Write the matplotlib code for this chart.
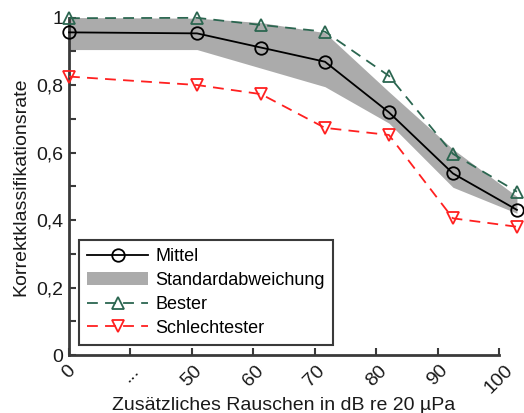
import numpy as np
import matplotlib
matplotlib.use('Agg')
import matplotlib.pyplot as plt

plt.rcParams['font.family'] = ['Liberation Sans', 'DejaVu Sans']

# data
x_pos = [0, 2, 3, 4, 5, 6, 7]
tick_labels = ['0', '...', '50', '60', '70', '80', '90', '100']
mittel = [0.956, 0.953, 0.911, 0.869, 0.719, 0.538, 0.430]
std_upper = [1.0, 0.998, 0.985, 0.955, 0.78, 0.61, 0.47]
std_lower = [0.905, 0.905, 0.85, 0.795, 0.687, 0.497, 0.42]
bester = [0.998, 0.999, 0.978, 0.958, 0.827, 0.596, 0.484]
schlechtester = [0.825, 0.80, 0.773, 0.673, 0.652, 0.405, 0.38]

fig = plt.figure(figsize=(5.24, 4.13), dpi=100)
ax = fig.add_axes([0.1317, 0.1404, 0.8206, 0.8172])

ax.fill_between(x_pos, std_lower, std_upper, color='#ababab', linewidth=0,
                label='Standardabweichung', clip_on=False, zorder=1)
ax.plot(x_pos, mittel, color='black', lw=1.3, marker='o', ms=9, mfc='none',
        mew=1.3, label='Mittel', clip_on=False, zorder=3)
ax.plot(x_pos, bester, color='#2b6650', lw=1.3, ls=(0, (6, 4)), marker='^', ms=9,
        mfc='none', mew=1.3, label='Bester', clip_on=False, zorder=3)
ax.plot(x_pos, schlechtester, color='#ff2020', lw=1.3, ls=(0, (6, 4)), marker='v', ms=9,
        mfc='none', mew=1.3, label='Schlechtester', clip_on=False, zorder=3)

xmax = 6.72
ax.set_xlim(0, xmax)
ax.set_ylim(0, 1)
ax.set_xticks(np.linspace(0, xmax, 8))
ax.set_xticklabels(tick_labels, rotation=45, ha='center', va='top')
ax.set_yticks([0, 0.2, 0.4, 0.6, 0.8, 1.0])
ax.set_yticklabels(['0', '0,2', '0,4', '0,6', '0,8', '1'])
ax.set_yticks(np.arange(0.1, 1.0, 0.2), minor=True)

for s in ['top', 'right']:
    ax.spines[s].set_visible(False)
for s in ['left', 'bottom']:
    ax.spines[s].set_linewidth(2)
    ax.spines[s].set_color('#3a3a3a')

ax.tick_params(which='both', direction='in', length=5, width=1.5, color='#3a3a3a',
               labelsize=14, labelcolor='#1a1a1a')
ax.tick_params(axis='x', pad=5)
ax.tick_params(axis='y', pad=4)

ax.set_xlabel('Zusätzliches Rauschen in dB re 20 µPa', fontsize=14, color='#1a1a1a', labelpad=0)
ax.set_ylabel('Korrektklassifikationsrate', fontsize=14, color='#1a1a1a', labelpad=5)

h, l = ax.get_legend_handles_labels()
order = [l.index('Mittel'), l.index('Standardabweichung'), l.index('Bester'), l.index('Schlechtester')]
leg = ax.legend([h[i] for i in order], [l[i] for i in order], loc='lower left',
                bbox_to_anchor=(0.023, 0.03), borderaxespad=0, fontsize=13,
                handlelength=3.4, numpoints=1, fancybox=False, framealpha=1, edgecolor='#3a3a3a',
                borderpad=0.45, labelspacing=0.38, handletextpad=0.4)
leg.get_frame().set_linewidth(1.5)

fig.savefig('out.png', dpi=100)
